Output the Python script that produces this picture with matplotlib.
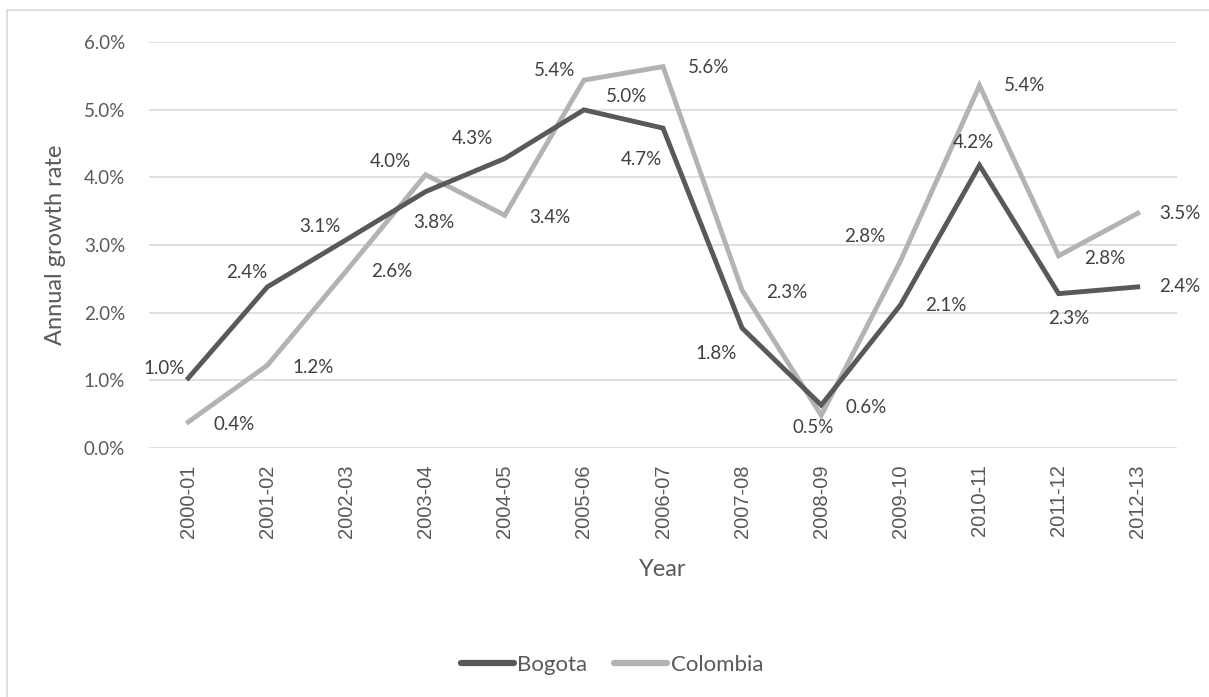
"""Annual growth rate, Bogota vs Colombia, 2000-01 to 2012-13."""

import matplotlib

matplotlib.use("Agg")
from matplotlib import pyplot as plt  # noqa: E402
from matplotlib.lines import Line2D  # noqa: E402
from matplotlib.patches import Rectangle  # noqa: E402
from matplotlib.ticker import FuncFormatter  # noqa: E402

years = [
    "2000-01", "2001-02", "2002-03", "2003-04", "2004-05", "2005-06", "2006-07",
    "2007-08", "2008-09", "2009-10", "2010-11", "2011-12", "2012-13",
]
bogota = [1.03, 2.38, 3.08, 3.79, 4.28, 5.00, 4.73, 1.77, 0.63, 2.11, 4.18, 2.28, 2.38]
colombia = [0.38, 1.22, 2.62, 4.04, 3.44, 5.44, 5.64, 2.33, 0.48, 2.76, 5.36, 2.84, 3.47]

# label offsets in pixels (dx, dy), y up
bogota_offsets = [(-24, 10), (-21, 14), (-27, 13), (8, -31), (-32, 20), (43, 13), (-22, -31),
                  (-26, -25), (45, -2), (45, 0), (-6, 23), (10, -25), (42, 0)]
colombia_offsets = [(46, -2), (46, -2), (45, -1), (-35, 13), (45, -2), (-29, 10), (46, -1),
                    (45, -2), (-8, -12), (-36, 25), (45, 0), (46, -3), (42, 0)]

DARK = "#595959"
LIGHT = "#b3b3b3"
TEXT = "#595959"
LABEL = "#404040"
FONT = "Lato"

W, H = 1209, 697
fig = plt.figure(figsize=(W / 100, H / 100), dpi=100)
ax = fig.add_axes([148.7 / W, 1 - 447.7 / H, (1177.3 - 148.7) / W, (447.7 - 42.3) / H])

fig.add_artist(Rectangle((7 / W, -0.1), 1.2, 1 - 10 / H + 0.1, transform=fig.transFigure,
                         fill=False, edgecolor="#d9d9d9", linewidth=1.2))

x = list(range(len(years)))
ax.plot(x, bogota, color=DARK, linewidth=3.5, solid_joinstyle="miter", zorder=3)
ax.plot(x, colombia, color=LIGHT, linewidth=3.5, solid_joinstyle="miter", zorder=2)

for series, offsets in ((bogota, bogota_offsets), (colombia, colombia_offsets)):
    for xi, value, (dx, dy) in zip(x, series, offsets):
        ax.annotate(f"{value:.1f}%", (xi, value), xytext=(dx, dy), textcoords="offset pixels",
                    ha="center", va="center", fontsize=13.5, color=LABEL, family=FONT,
                    zorder=4)

ax.set_xlim(-0.5, len(years) - 0.5)
ax.set_ylim(0, 6)
ax.set_yticks([0, 1, 2, 3, 4, 5, 6])
ax.yaxis.set_major_formatter(FuncFormatter(lambda v, _: f"{v:.1f}%"))
ax.set_xticks(x, years, rotation=90)
ax.grid(axis="y", color="#d9d9d9", linewidth=1.2, zorder=0)
ax.set_axisbelow(True)
for spine in ax.spines.values():
    spine.set_visible(False)
ax.tick_params(axis="y", length=0, pad=17, labelsize=13.5, labelcolor=TEXT)
ax.tick_params(axis="x", length=0, pad=12, labelsize=14.5, labelcolor=TEXT)
for label in ax.get_yticklabels():
    label.set_family(FONT)
for label in ax.get_xticklabels():
    label.set_family("Liberation Sans")
    label.set_va("top")

ax.set_ylabel("Annual growth rate", fontsize=17, color=TEXT, family=FONT, va="center")
ax.yaxis.set_label_coords((55 - 148.7) / (1177.3 - 148.7), 0.5)
ax.set_xlabel("Year", fontsize=17, color=TEXT, family=FONT, va="center")
ax.xaxis.set_label_coords(0.5, -(570 - 447.7) / (447.7 - 42.3))

handles = [
    Line2D([], [], color=DARK, linewidth=4.5, solid_capstyle="round"),
    Line2D([], [], color=LIGHT, linewidth=4.5, solid_capstyle="round"),
]
leg = fig.legend(handles, ["Bogota", "Colombia"], loc="center", ncol=2,
                 bbox_to_anchor=(612 / W, 1 - 665 / H), frameon=False,
                 prop={"family": FONT, "size": 16}, handlelength=2.4,
                 handletextpad=0.15, columnspacing=1.2)
for text in leg.get_texts():
    text.set_color(TEXT)

fig.savefig("out.png", dpi=100)
plt.close(fig)
